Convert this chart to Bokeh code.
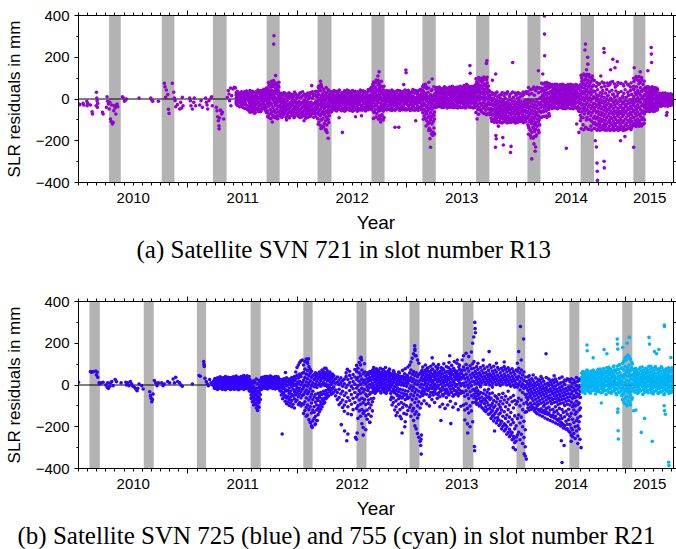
from bokeh.plotting import figure
from bokeh.models import Range1d, LinearAxis, FixedTicker, Span, Title, CustomLabelingPolicy
from bokeh.layouts import column
from bokeh.embed import file_html
from bokeh.resources import INLINE

# ---------------- axes / ticks ----------------
X_START, X_END = 2010.0, 2015.434
Y_MIN, Y_MAX = -400, 400
YEAR_TICKS = [2011, 2012, 2013, 2014, 2015]
MONTH_TICKS = [2010 + i / 12 for i in range(66)]
YEAR_LABEL_POS = [2010.5, 2011.5, 2012.5, 2013.5, 2014.5, 2015.217]
YEAR_LABELS = ["2010", "2011", "2012", "2013", "2014", "2015"]
Y_TICKS = [-400, -200, 0, 200, 400]
Y_MINOR = [-300, -100, 100, 300]
Y_LABELS = ["\u2212400", "\u2212200", "0", "200", "400"]
Y_RIGHT_TICKS = [-400, -300, -200, -100, 0, 100, 200, 300, 400]

# ---------------- eclipse seasons (grey bands) ----------------
a_band_start = [2010.279, 2010.760, 2011.228, 2011.718, 2012.183, 2012.676, 2013.141, 2013.631, 2014.100, 2014.586, 2015.067]
a_band_end = [2010.386, 2010.876, 2011.353, 2011.837, 2012.311, 2012.795, 2013.263, 2013.752, 2014.219, 2014.708, 2015.177]
b_band_start = [2010.100, 2010.596, 2011.081, 2011.572, 2012.053, 2012.539, 2013.023, 2013.509, 2014.000, 2014.483, 2014.966]
b_band_end = [2010.195, 2010.687, 2011.165, 2011.664, 2012.138, 2012.630, 2013.114, 2013.607, 2014.080, 2014.574, 2015.058]

# ---------------- panel (a): SVN 721, isolated points ----------------
a_t = [2010.006, 2010.012, 2010.042, 2010.048, 2010.076, 2010.079, 2010.085, 2010.109, 2010.124, 2010.128,
       2010.164, 2010.167, 2010.170, 2010.161, 2010.173, 2010.176, 2010.219, 2010.225, 2010.255, 2010.261,
       2010.267, 2010.273, 2010.280, 2010.286, 2010.292, 2010.298, 2010.304, 2010.310, 2010.316, 2010.322,
       2010.328, 2010.335, 2010.341, 2010.347, 2010.353, 2010.359, 2010.401, 2010.410, 2010.419, 2010.431,
       2010.437, 2010.553, 2010.660, 2010.669, 2010.678, 2010.730, 2010.784, 2010.790, 2010.802, 2010.796,
       2010.815, 2010.821, 2010.827, 2010.857, 2010.870, 2010.876, 2010.882, 2010.888, 2010.903, 2010.924,
       2010.933, 2010.942, 2010.948, 2010.955, 2011.015, 2011.021, 2011.027, 2011.040, 2011.052, 2011.058,
       2011.070, 2011.107, 2011.119, 2011.131, 2011.161, 2011.168, 2011.174, 2011.180, 2011.192, 2011.210,
       2011.216, 2011.222, 2011.259, 2011.265, 2011.271, 2011.277, 2011.283, 2011.284, 2011.289, 2011.295,
       2011.301, 2011.307, 2011.314, 2011.326, 2011.359, 2011.368, 2011.374, 2011.380, 2011.389, 2011.392,
       2011.399, 2011.411, 2011.423, 2011.435,
       2011.785, 2011.783, 2011.800, 2011.760, 2011.820, 2011.770, 2011.830, 2011.900, 2012.060, 2012.130,
       2012.210, 2012.215, 2012.270, 2012.280, 2012.255, 2012.380, 2012.410, 2012.530, 2012.585, 2012.745,
       2012.735, 2012.760, 2012.990, 2012.992, 2012.890, 2012.925, 2012.970, 2013.080, 2013.215, 2013.230,
       2013.200, 2013.210, 2013.235, 2013.575, 2013.577, 2013.520, 2013.545, 2013.640, 2013.730, 2013.725,
       2013.810, 2013.965, 2013.812, 2013.815, 2013.808, 2013.880, 2013.875, 2013.950, 2013.945, 2013.835,
       2013.780, 2014.140, 2014.170, 2014.175, 2014.200, 2014.160, 2014.255, 2014.256, 2014.257, 2014.240,
       2014.455, 2014.570, 2014.550, 2014.630, 2014.625, 2014.650, 2014.652, 2014.640, 2014.735, 2014.738,
       2014.740, 2014.800, 2014.802, 2014.798, 2014.801, 2014.880, 2014.920, 2014.900, 2014.860, 2015.070,
       2015.230, 2015.232, 2015.234, 2015.200, 2015.375, 2015.370, 2015.075, 2015.130, 2014.720, 2014.730,
       2014.950, 2014.770, 2014.990]
a_v = [-24, -27, -21, -29, -11, -32, -21, -29, -61, -72,
       32, 5, -8, -32, -40, -21, -64, -72, -40, 11,
       -11, -24, -48, -16, -96, -108, -29, -120, -112, -56,
       -32, -43, -72, -29, -24, -37, 11, 5, -11, -5,
       0, 5, 5, -5, -11, -11, 75, 59, 43, 8,
       21, -49, -69, 75, 32, 5, -8, -37, -27, -48,
       -16, -43, 8, -32, 5, -8, -32, -48, -16, 5,
       -32, -29, -8, -40, 5, -16, -29, -48, -8, 5,
       11, -32, -40, -56, -85, -104, -128, -143, -91, -53,
       -56, -72, -64, -96, 8, 40, 24, -8, 53, -32,
       16, 48, 56, 53,
       303, 263, 112, 85, -95, -110, 80, -100, -104, 64,
       85, 70, -160, -188, -150, -90, -160, -85, -80, 130,
       110, -110, 139, 126, -135, -135, 69, -104, -231, 96,
       80, -190, -175, 160, 123, 64, 70, -96, 183, 170,
       120, 175, -175, -191, -231, -220, -185, -227, -256, -130,
       90, -287, -250, -230, 135, -215, 398, 311, 207, 120,
       -236, -160, -120, 263, 235, 200, 167, 140, -307, -346,
       -390, -298, -330, 242, 223, 190, 180, 150, 140, -231,
       247, 215, 175, 135, -65, -78, 150, 130, -200, -230,
       -200, 110, -180]

# panel (a), dense part: each entry is [time, residuals...]
a_cols = [
    [2011.440, 18, 3, -12, 30, -22], [2011.452, 8, -6, 24, -30, 36], [2011.464, 14, -2, -18, 28],
    [2011.476, 4, 20, -10, -34, 12], [2011.488, 22, 9, -4, -24, 34], [2011.500, 0, 15, -15, 27, -40],
    [2011.512, 11, -8, 32, -26], [2011.524, 6, 19, -20, -44, 26], [2011.536, 16, -3, -30, 38, 2],
    [2011.548, -6, 10, -38, 22, -52], [2011.560, 4, -16, -34, 24, -58], [2011.572, -10, 12, -46, -26, 30],
    [2011.584, -2, -22, -62, 18, -40], [2011.596, 8, -30, -12, -52, 28], [2011.608, -18, 2, -38, -68, 20],
    [2011.620, -6, 14, -28, -50, 34], [2011.632, 10, -20, -44, 26, -4], [2011.644, -14, 6, -36, -60, 30],
    [2011.656, 2, 22, -24, -48, 38], [2011.668, -8, 16, -32, 40, -56], [2011.680, 12, -2, -20, 34, -42],
    [2011.692, 4, 24, -14, -38, 46], [2011.704, -4, 18, 36, -28, -50],
    [2011.716, 10, -10, 30, -40, 52, -66], [2011.728, 24, 2, -22, 46, -58, -84], [2011.740, 16, -6, 38, -34, 64, -72],
    [2011.752, 30, 8, -18, 56, -50, -94], [2011.764, 6, -26, 42, 72, -62, 20], [2011.776, 22, -4, -40, 60, -78, 84],
    [2011.788, 12, -16, 36, -54, 68, -88], [2011.800, 28, 0, -30, 50, -66, 76], [2011.812, 2, -20, 26, -48, 58, -80],
    [2011.824, -8, 14, -36, 40, -62, 64],
    [2011.836, -12, -34, 10, -58, 28, -80], [2011.848, -26, -2, -48, 18, -72], [2011.860, -16, -40, 6, -62, -86],
    [2011.872, -32, -10, -54, 22, -76], [2011.884, -20, 0, -44, -68, 14], [2011.896, -36, -14, -58, 24, -88],
    [2011.908, -8, -28, -50, 10, -74], [2011.920, -24, -46, 4, -66, 28], [2011.932, -40, -18, -60, 16, -84],
    [2011.944, -14, -32, -56, 8, -70], [2011.956, -28, -4, -50, -78, 20], [2011.968, -18, -42, 12, -64, -90],
    [2011.980, -34, -10, -52, 26, -72], [2011.992, -22, -46, 2, -68, 18], [2012.004, -38, -16, -60, 14, -82],
    [2012.016, -12, -30, -54, 22, -76], [2012.028, -26, -48, 6, -70, 30], [2012.040, -42, -20, -62, 10, -86],
    [2012.052, -16, -36, -58, 18, -74], [2012.064, -30, -6, -52, -80, 24], [2012.076, -20, -44, 8, -66, -92],
    [2012.088, -36, -12, -56, 20, -70], [2012.100, -24, -48, 0, -72, 16], [2012.112, -40, -18, -60, 12, -84],
    [2012.124, -14, -32, -54, 26, -76], [2012.136, -28, -50, 4, -68, 34], [2012.148, -44, -22, -64, 14, -88],
    [2012.160, -18, -38, -58, 22, -72], [2012.172, -10, -30, 12, -50, 36],
    [2012.184, 8, -18, -42, 34, -66, -94], [2012.196, 20, -6, -30, 52, -58, -110, 62], [2012.208, 2, -24, -50, 40, -80, -126],
    [2012.220, 14, -12, -38, 58, -70, -100, -140], [2012.232, -4, -30, 26, -60, -92, -132], [2012.244, 10, -20, -46, 36, -76, -118],
    [2012.256, -8, -36, 18, -64, -104, -146], [2012.268, 4, -26, 30, -56, -88, -124], [2012.280, -14, -40, 12, -70, -98, 44],
    [2012.292, -2, -28, -54, 22, -80], [2012.304, 6, -16, -38, 28, -62],
    [2012.316, -4, -20, 12, -36, 28, -52], [2012.328, 6, -12, -28, 22, -44], [2012.340, -8, 2, -24, 18, -40, 34],
    [2012.352, 0, -16, 14, -32, -54], [2012.364, -12, 8, -26, 26, -46], [2012.376, 4, -6, -20, 20, -38, 36],
    [2012.388, -10, 10, -30, 16, -50], [2012.400, 2, -14, 24, -34, -56], [2012.412, -6, 12, -22, 30, -42],
    [2012.424, 8, -10, -26, 18, -48], [2012.436, -2, -18, 14, -36, 32], [2012.448, 6, -8, -30, 22, -52],
    [2012.460, -10, 4, -24, 28, -44], [2012.472, 0, -16, 16, -38, 38], [2012.484, -8, 10, -28, 20, -50],
    [2012.496, 4, -12, -20, 26, -42], [2012.508, -4, 12, -32, 18, -56], [2012.520, 10, -6, -24, 32, -46],
    [2012.532, -6, 2, -18, 24, -40], [2012.544, 6, -14, -34, 16, -58], [2012.556, -2, 14, -26, 30, -44],
    [2012.568, 8, -8, -22, 22, -50], [2012.580, -8, 6, -30, 34, -42], [2012.592, 2, -12, 18, -36, -54],
    [2012.604, -4, 10, -24, 28, -48], [2012.616, 10, -6, -20, 36, -40], [2012.628, -6, 4, -28, 24, -52],
    [2012.640, 4, 16, -16, 32, -38], [2012.652, 12, -4, -26, 40, -46], [2012.664, 6, 20, -14, 44, -36],
    [2012.676, 16, -4, 36, -28, 56, -50], [2012.688, 26, 4, -18, 48, -40, 70], [2012.700, 10, 34, -10, 62, -36, -64],
    [2012.712, 30, 6, -24, 54, 78, -52], [2012.724, 18, -6, 44, -30, 86, -70], [2012.736, 36, 12, -16, 66, -44, 90],
    [2012.748, 22, -2, 50, -38, 74, -82], [2012.760, 8, -20, 40, -54, 62, -96], [2012.772, 24, -8, 32, -44, 58, -76],
    [2012.784, 4, -26, 20, -58, 44, -100],
    [2012.796, -2, -18, 14, -36, 30, -50], [2012.808, 6, -10, -26, 22, -44], [2012.820, -8, 10, -30, 26, -48],
    [2012.832, 2, -14, 18, -34, 38], [2012.844, -6, 8, -22, 28, -52], [2012.856, 4, -12, -28, 20, -42],
    [2012.868, -10, 6, -18, 32, -46], [2012.880, 0, -16, 16, -32, 36], [2012.892, -4, 12, -26, 24, -54],
    [2012.904, 8, -8, -20, 30, -40], [2012.916, -2, -20, 14, -38, 40], [2012.928, 6, -6, -28, 22, -48],
    [2012.940, -8, 10, -22, 34, -44], [2012.952, 2, -14, 18, -36, 28], [2012.964, -4, 8, -30, 26, -50],
    [2012.976, 10, -10, -24, 38, -42], [2012.988, 0, 16, -18, 30, -46], [2013.000, -6, 6, -26, 24, -52],
    [2013.012, 4, -12, 20, -34, 42], [2013.024, -2, 10, -28, 32, -44], [2013.036, 8, -8, -20, 26, -48],
    [2013.048, -4, 14, -30, 36, -40], [2013.060, 2, -16, 12, -36, 30], [2013.072, -8, 6, -24, 28, -54],
    [2013.084, 6, -10, -22, 34, -46], [2013.096, 0, 12, -32, 24, -50], [2013.108, 10, -6, -18, 40, -42],
    [2013.120, 4, 18, -14, 44, -38], [2013.132, 12, -2, -26, 36, -52],
    [2013.144, 18, -6, 42, -34, 60, -66], [2013.156, 8, -20, 30, -50, -82, 56], [2013.168, 0, -30, 24, -58, -92, 70],
    [2013.180, -10, -40, 16, -70, -104, 50], [2013.192, 4, -26, -56, 32, -88, -120], [2013.204, -16, -46, 10, -80, -112, -140],
    [2013.216, -6, -36, 20, -66, -98, -150], [2013.228, -20, -52, 6, -84, -120, 44], [2013.240, -12, -42, 14, -74, -108, -160],
    [2013.252, -2, -30, 24, -62, -96, -168],
    [2013.264, 12, -8, 30, -24, 46, -40], [2013.276, 20, 2, -16, 36, -34], [2013.288, 6, 26, -12, 44, -30],
    [2013.300, 16, -4, 34, -22, 52], [2013.312, 24, 4, -18, 40, -36], [2013.324, 8, -10, 28, -26, 48],
    [2013.336, 18, 0, 38, -20, -40], [2013.348, 26, 6, -14, 46, -30], [2013.360, 10, -6, 32, -28, 50],
    [2013.372, 20, 2, -20, 40, -38], [2013.384, 4, 24, -10, 44, -32], [2013.396, 14, -8, 36, -24, 54],
    [2013.408, 22, 6, -16, 42, -36], [2013.420, 8, -4, 30, -22, 48], [2013.432, 18, 0, 38, -28, -42],
    [2013.444, 28, 10, -12, 50, -30], [2013.456, 12, -6, 34, -26, 46], [2013.468, 20, 4, -18, 40, -38],
    [2013.480, 6, 26, -10, 48, -34], [2013.492, 16, -2, 36, -20, 56], [2013.504, 24, 8, -14, 44, -40],
    [2013.516, 10, -8, 30, -26, 52], [2013.528, 20, 0, 40, -22, -36], [2013.540, 28, 12, -10, 50, -30],
    [2013.552, 14, -4, 34, -24, 58], [2013.564, 22, 6, -16, 46, -38], [2013.576, 8, 30, -8, 54, -32],
    [2013.588, 18, -2, 38, -20, 60], [2013.600, 26, 10, -14, 48, -40], [2013.612, 14, -6, 34, -28, 56],
    [2013.624, 24, 4, 44, -18, 64, -40], [2013.636, 12, -10, 36, -34, 58, 82], [2013.648, 30, 6, 54, -24, 76, -50],
    [2013.660, 18, -6, 42, -40, 66, 94], [2013.672, 8, -20, 32, -52, 60, 88], [2013.684, 26, 2, 50, -30, 80, -62],
    [2013.696, 36, 10, 62, -18, 90, -44], [2013.708, 20, -8, 46, -36, 72, 100], [2013.720, 6, -24, 34, -54, 64, -72],
    [2013.732, 28, 0, 52, -28, 78, 104], [2013.744, 14, -14, 40, -46, 62, -68],
    [2013.756, -4, -28, 18, -52, -76, 34], [2013.768, -20, -44, 4, -68, -92], [2013.780, -30, -54, -8, -78, 20, -100],
    [2013.792, -24, -48, 2, -72, -96], [2013.804, -38, -62, -14, -86, 16, -106], [2013.816, -28, -52, -6, -76, -100, 28],
    [2013.828, -42, -66, -18, -90, 10], [2013.840, -32, -56, -10, -80, -108], [2013.852, -46, -70, -22, -94, 6, -112],
    [2013.864, -34, -58, -12, -84, 22], [2013.876, -48, -72, -24, -96, -4, -110], [2013.888, -36, -60, -14, -88, 14],
    [2013.900, -50, -74, -26, -98, 2, -106], [2013.912, -40, -64, -16, -90, 24, -114], [2013.924, -30, -56, -8, -82, -104],
    [2013.936, -44, -68, -20, -94, 12], [2013.948, -52, -76, -28, -100, -2, -112], [2013.960, -38, -62, -12, -86, 30],
    [2013.972, -46, -70, -22, -96, 8, -108], [2013.984, -34, -58, -10, -84, -104], [2013.996, -48, -72, -24, -98, 18],
    [2014.008, -40, -64, -16, -90, 4, -110], [2014.020, -30, -54, -8, -80, -102, 26], [2014.032, -44, -68, -20, -94, 10],
    [2014.044, -36, -60, -12, -86, -108], [2014.056, -50, -74, -26, -98, 14], [2014.068, -38, -62, -14, -88, 22, -112],
    [2014.080, -28, -54, -6, -80, -104], [2014.092, -42, -66, -18, -92, 28],
    [2014.104, -30, -60, -4, -92, 34, -124], [2014.116, -46, -76, -16, -108, 20, -140], [2014.128, -36, -68, -8, -100, 44, -150, -176],
    [2014.140, -54, -86, -24, -118, 26, -160], [2014.152, -40, -72, -10, -104, 48, -136, -188], [2014.164, -58, -90, -28, -122, 18, -156],
    [2014.176, -44, -78, -14, -112, 40, -146, -180], [2014.188, -32, -64, -2, -96, 56, -130], [2014.200, -48, -80, -18, -110, 30, -150],
    [2014.212, -26, -58, 2, -90, 52, -124],
    [2014.224, -16, -40, 8, -66, 36, -88], [2014.236, -4, -30, 20, -56, 48, 72], [2014.248, -12, -36, 14, -62, 40, -84],
    [2014.260, 2, -22, 28, -48, 56, 78], [2014.272, -8, -32, 18, -58, 44, -80], [2014.284, 6, -18, 30, -44, 60, 74],
    [2014.296, 0, -26, 24, -50, 52, -70], [2014.308, 10, -12, 34, -38, 62],
    [2014.320, 14, -6, 36, -26, 58], [2014.332, 22, 2, 44, -18, 66, -38], [2014.344, 8, -10, 30, -30, 52],
    [2014.356, 18, -2, 40, -22, 62, -40], [2014.368, 26, 6, 48, -14, 70], [2014.380, 10, -8, 34, -28, 56, -42],
    [2014.392, 20, 0, 42, -20, 64], [2014.404, 4, -14, 28, -34, 50], [2014.416, 16, -4, 38, -24, 60, -36],
    [2014.428, 24, 4, 46, -16, 68], [2014.440, 12, -10, 32, -30, 54, -44], [2014.452, 20, 2, 40, -22, 62],
    [2014.464, 6, -12, 30, -32, 50, -40], [2014.476, 18, -4, 38, -26, 58], [2014.488, 26, 8, 46, -18, 66],
    [2014.500, 10, -8, 34, -28, 56, -42], [2014.512, 22, 2, 42, -20, 64], [2014.524, 8, -12, 28, -32, 52, -38],
    [2014.536, 16, -2, 38, -24, 60], [2014.548, 24, 6, 44, -16, 68, -44], [2014.560, 10, -14, 30, -36, 54],
    [2014.572, 2, -22, 22, -46, 48, -60],
    [2014.584, 14, -16, 40, -44, 68, -78, -104], [2014.596, 28, -2, 56, -30, 84, -62, 100], [2014.608, 8, -24, 36, -56, 70, -90, -124],
    [2014.620, 24, -8, 52, -40, 90, -72, 112], [2014.632, 36, 4, 64, -26, 96, -58, -136], [2014.644, 16, -18, 44, -50, 78, -88, 118],
    [2014.656, 30, -4, 58, -36, 88, -70, -146], [2014.668, 6, -28, 34, -62, 72, -98, 104], [2014.680, 20, -12, 48, -46, 82, -80, -130],
    [2014.692, 32, 0, 60, -32, 94, -66, 110], [2014.704, 10, -22, 38, -56, 66, -92, -118],
    [2014.716, -22, -52, 6, -82, 36, -112, -140], [2014.728, -36, -66, -8, -96, 22, -126, 60], [2014.740, -28, -58, 0, -88, 44, -120, -148],
    [2014.752, -44, -74, -14, -104, 16, -134, 70], [2014.764, -32, -62, -4, -92, 30, -124, -150], [2014.776, -48, -78, -18, -108, 12, -138, 56],
    [2014.788, -38, -68, -10, -98, 40, -128, -146], [2014.800, -54, -84, -24, -114, 8, -142, 76], [2014.812, -42, -72, -12, -102, 28, -132],
    [2014.824, -30, -60, -2, -90, 46, -120, -150], [2014.836, -50, -80, -20, -110, 18, -140, 64], [2014.848, -40, -70, -8, -100, 34, -130],
    [2014.860, -56, -86, -26, -116, 4, -146, 80], [2014.872, -34, -64, -6, -94, 42, -124], [2014.884, -46, -76, -16, -106, 24, -136, -150],
    [2014.896, -58, -88, -28, -118, 10, -148, 72], [2014.908, -38, -68, -8, -98, 38, -128], [2014.920, -52, -82, -22, -112, 14, -142, 66],
    [2014.932, -44, -74, -14, -104, 30, -134, -150], [2014.944, -60, -90, -30, -120, 2, -146], [2014.956, -40, -70, -10, -100, 36, -130, 74],
    [2014.968, -54, -84, -24, -114, 12, -144], [2014.980, -46, -76, -16, -106, 26, -136, 62], [2014.992, -36, -66, -6, -96, 44, -126, -148],
    [2015.004, -56, -86, -26, -116, 8, -146], [2015.016, -42, -72, -12, -102, 32, -132, 70], [2015.028, -50, -80, -20, -110, 18, -140],
    [2015.040, -34, -64, -4, -94, 40, -124, 58], [2015.052, -46, -76, -16, -106, 22, -136], [2015.064, -30, -60, 0, -90, 48, -120],
    [2015.072, -20, -54, 12, -88, 46, -118, 84], [2015.084, -36, -70, -4, -102, 30, -128, 96], [2015.096, -12, -46, 22, -80, 58, -112, 104],
    [2015.108, -28, -62, 6, -96, 40, -124, 90], [2015.120, -40, -74, -8, -106, 26, -130, 108], [2015.132, -16, -50, 18, -84, 54, -116, 80],
    [2015.144, -32, -66, 2, -98, 36, -126, 94], [2015.156, -24, -58, 10, -90, 44, -120, 70], [2015.168, -10, -40, 20, -72, 50, -100],
    [2015.180, -6, -28, 16, -46, 38, -60, 56], [2015.192, 4, -18, 26, -38, 48, -56], [2015.204, -10, -32, 12, -50, 34, 58],
    [2015.216, 0, -22, 22, -42, 44, -58], [2015.228, -8, -30, 14, -48, 36, 54], [2015.240, 6, -16, 28, -36, 50, -52],
    [2015.252, -4, -26, 18, -44, 40, -60], [2015.264, 2, -20, 24, -40, 46], [2015.276, -12, -34, 10, -52, 32, 52],
    [2015.288, -2, -24, 20, -42, 42],
    [2015.300, -6, -20, 10, -32, 24], [2015.312, 2, -14, 16, -28, 26], [2015.324, -8, -22, 8, -34, 20],
    [2015.336, 0, -16, 14, -30, 28], [2015.348, -4, -18, 12, -26, 22], [2015.360, 4, -12, 18, -24, 26],
    [2015.372, -6, -20, 6, -30, 20], [2015.384, 2, -14, 14, -26, 24], [2015.396, -2, -16, 10, -28, 18],
    [2015.408, 4, -10, 16, -22, 22], [2015.420, -4, -16, 8, -24, 20], [2015.432, 0, -12, 12, -20, 16],
]

# panel (a), points in between the columns above
a_cols2 = [
    [2011.446, 33, -27, 7], [2011.470, -37, 21, -1], [2011.494, 27, -33, 13], [2011.518, -45, 35, -9],
    [2011.542, 31, -49, 17], [2011.566, -63, 41, -21], [2011.590, 37, -55, -7], [2011.614, -47, 23, -65],
    [2011.638, 43, -53, -17], [2011.662, -61, 29, 7], [2011.686, 39, -47, -23], [2011.710, -57, 45, 1],
    [2011.734, 79, -87, -11, 37], [2011.758, -71, 65, 3, -93], [2011.782, 89, -59, 27, -83], [2011.806, -91, 71, -13, 45],
    [2011.830, 57, -77, 19], [2011.854, -87, 27, -41], [2011.878, 31, -69, -21], [2011.902, -83, 17, -47],
    [2011.926, 29, -91, -33], [2011.950, -77, 23, -9], [2011.974, 33, -85, -39], [2011.998, -73, 11, -51],
    [2012.022, 27, -89, -27], [2012.046, -81, 35, -15], [2012.070, 19, -79, -43], [2012.094, -87, 29, -23],
    [2012.118, 31, -83, -35], [2012.142, -71, 21, -47], [2012.166, 37, -85, -13], [2012.190, -121, 57, -73, 23],
    [2012.214, 63, -141, -21, -99], [2012.238, -133, 47, -63, 11], [2012.262, 55, -147, -85, -29], [2012.286, -113, 41, -53],
    [2012.310, 35, -61, -9], [2012.334, -53, 41, -19], [2012.358, 37, -57, 3], [2012.382, -49, 43, -29],
    [2012.406, 31, -55, -11], [2012.430, -59, 39, 7], [2012.454, 43, -47, -23], [2012.478, -55, 33, -3],
    [2012.502, 41, -59, -17], [2012.526, -51, 37, 9], [2012.550, 35, -57, -27], [2012.574, -53, 43, -7],
    [2012.598, 39, -49, 13], [2012.622, -57, 29, -21], [2012.646, 45, -51, 1], [2012.670, -43, 53, -19],
    [2012.694, 81, -93, 17, -61], [2012.718, -87, 91, -29, 43], [2012.742, 77, -97, 7, -57], [2012.766, -81, 85, -33, 29],
    [2012.790, 61, -89, -7], [2012.814, -53, 41, -13], [2012.838, 37, -49, 5], [2012.862, -55, 43, -21],
    [2012.886, 33, -51, 11], [2012.910, -47, 41, -27], [2012.934, 39, -55, -3], [2012.958, -51, 35, 15],
    [2012.982, 43, -53, -19], [2013.006, -49, 39, 3], [2013.030, 31, -55, -25], [2013.054, -53, 45, 7],
    [2013.078, 41, -47, -15], [2013.102, -55, 37, 1], [2013.126, 47, -43, 21], [2013.150, 67, -97, -21, 33],
    [2013.174, -129, 61, -71, 3], [2013.198, 53, -151, -45, -113], [2013.222, -167, 41, -89, -27], [2013.246, 59, -139, -7, -79],
    [2013.270, -39, 55, 21], [2013.294, 57, -37, 3], [2013.318, -41, 49, 29], [2013.342, 59, -35, 13],
    [2013.366, -43, 53, -1], [2013.390, 57, -39, 31], [2013.414, -41, 61, 5], [2013.438, 55, -37, 25],
    [2013.462, -43, 57, -5], [2013.486, 61, -41, 17], [2013.510, -39, 55, 35], [2013.534, 59, -43, 3],
    [2013.558, -37, 63, 21], [2013.582, 57, -41, 41], [2013.606, -43, 61, 9], [2013.630, 97, -65, 29, 71],
    [2013.654, -73, 103, 1, 49], [2013.678, 99, -59, 63, -23], [2013.702, -69, 105, 35, -1], [2013.726, 93, -75, 57, -39],
    [2013.750, -69, 41, 13], [2013.774, 31, -107, -57], [2013.798, -111, 27, -31], [2013.822, 33, -113, -69],
    [2013.846, -107, 19, -43], [2013.870, 31, -115, -61], [2013.894, -109, 27, -79], [2013.918, 35, -113, -51],
    [2013.942, -111, 23, -37], [2013.966, 33, -109, -65], [2013.990, -115, 29, -53], [2014.014, 31, -111, -73],
    [2014.038, -107, 25, -41], [2014.062, 33, -113, -59], [2014.086, -109, 35, -27], [2014.110, 55, -169, -81, -133],
    [2014.134, -187, 47, -113, -61], [2014.158, 57, -181, -93, -141], [2014.182, -171, 49, -127, -69], [2014.206, 53, -161, -101],
    [2014.230, -87, 77, -29, 53], [2014.254, 71, -83, -43, 31], [2014.278, -89, 79, -11, 65], [2014.302, 73, -81, -37],
    [2014.326, -45, 69, 27], [2014.350, 71, -43, 53], [2014.374, -47, 63, 33], [2014.398, 69, -41, 9],
    [2014.422, -45, 71, 43], [2014.446, 65, -47, 29], [2014.470, -43, 69, 7], [2014.494, 71, -45, 51],
    [2014.518, -47, 67, 25], [2014.542, 69, -41, 33], [2014.566, -55, 61, -11], [2014.590, 113, -143, 23, -91],
    [2014.614, -147, 119, -47, 73], [2014.638, 109, -139, 9, -101], [2014.662, -145, 117, -63, 61], [2014.686, 103, -149, 31, -107],
    [2014.710, -141, 89, -41], [2014.734, 79, -149, -61, 7], [2014.758, -147, 73, -117, -23], [2014.782, 81, -143, -67, 25],
    [2014.806, -149, 61, -123, -31], [2014.830, 77, -145, -53, 13], [2014.854, -151, 69, -111, -39], [2014.878, 83, -141, -71, 21],
    [2014.902, -147, 57, -127, -11], [2014.926, 79, -149, -63, 27], [2014.950, -143, 75, -115, -33], [2014.974, 71, -151, -59, 9],
    [2014.998, -145, 81, -121, -29], [2015.022, 67, -139, -73, 19], [2015.046, -147, 77, -109, -41], [2015.070, 99, -127, -7, 61],
    [2015.094, -131, 107, -53, 29], [2015.118, 91, -123, -11, 73], [2015.142, -129, 103, -67, 37], [2015.166, 85, -117, -31],
    [2015.190, -59, 57, -19, 29], [2015.214, 53, -61, 7], [2015.238, -57, 59, -27, 33], [2015.262, 55, -59, 1],
    [2015.286, -53, 49, -13], [2015.310, 27, -35, -9], [2015.334, -31, 25, 3], [2015.358, 29, -33, -13],
    [2015.382, -35, 23, 7], [2015.406, 25, -31, -5], [2015.430, -29, 21, 9],
]

# ---------------- panel (b): SVN 725 (blue), isolated points ----------------
b_t = [2010.000, 2010.109, 2010.121, 2010.134, 2010.158, 2010.164, 2010.170, 2010.176, 2010.188, 2010.194,
       2010.207, 2010.225, 2010.249, 2010.261, 2010.267, 2010.273, 2010.286, 2010.292, 2010.304, 2010.316,
       2010.335, 2010.347, 2010.389, 2010.432, 2010.438, 2010.450, 2010.462, 2010.474, 2010.486, 2010.498,
       2010.511, 2010.523, 2010.535, 2010.541, 2010.553, 2010.578, 2010.590, 2010.650, 2010.657, 2010.663,
       2010.669, 2010.675, 2010.681, 2010.693, 2010.705, 2010.717, 2010.730, 2010.760, 2010.772, 2010.784,
       2010.815, 2010.833, 2010.864, 2010.876, 2010.888, 2010.906, 2010.924, 2010.936, 2010.948, 2011.040,
       2011.101, 2011.113, 2011.143, 2011.146, 2011.149, 2011.155, 2011.167, 2011.177, 2011.186, 2011.198,
       2011.210, 2011.222, 2011.234,
       2011.860, 2011.890, 2012.100, 2012.090, 2012.135, 2012.120, 2012.160, 2012.180, 2012.260, 2012.450,
       2012.455, 2012.580, 2012.585, 2012.540, 2012.545, 2012.600, 2012.660, 2012.955, 2012.980, 2013.070,
       2013.072, 2013.075, 2013.125, 2013.130, 2013.128, 2013.230, 2013.310, 2013.390, 2013.460, 2013.400,
       2013.555, 2013.600, 2013.610, 2013.619, 2013.622, 2013.625, 2013.616, 2013.618, 2013.750, 2013.800,
       2013.970, 2013.990, 2014.036, 2014.065, 2014.070, 2014.090, 2014.080, 2014.020, 2014.270, 2014.410,
       2014.416, 2014.435, 2014.500, 2014.560, 2014.580, 2014.590, 2012.400, 2012.430, 2012.460, 2012.530]
b_v = [13, 64, 61, 64, 67, 48, 61, 37, 10, 5,
       10, 13, 0, -11, 10, -16, -6, 10, 16, -3,
       26, 16, 10, 13, 0, 10, -3, 16, 5, -6,
       -11, -19, -27, -16, 5, -3, -19, -32, -51, -64,
       -80, -70, -43, 21, 10, -3, 10, 10, -3, 5,
       16, 10, 29, 10, 37, 16, 10, 0, -6, 5,
       45, 42, 112, 99, 89, 32, 16, 5, -3, 26,
       10, 0, 16,
       -235, 60, 125, 110, -203, -180, -190, -170, 80, -267,
       75, 133, 120, -260, -230, -240, -180, -230, -200, 188,
       165, 140, -290, -331, -260, 130, -170, 140, 120, -185,
       -230, 200, 230, 300, 270, 250, -295, -315, 160, -220,
       -300, -310, 280, 220, -330, -355, -340, 160, 150, -267,
       -371, -290, -270, -280, -260, -300, -190, -220, -235, -251]

# panel (b) blue, dense part: [time, residuals...]
b_cols = [
    [2011.240, 8, -6, 22, -14], [2011.252, 14, 0, 28, -10], [2011.264, 4, 18, -12, 30], [2011.276, 10, -4, 24, -18],
    [2011.288, 16, 2, 32, -8], [2011.300, 6, 20, -14, 26], [2011.312, 12, -2, 28, -20], [2011.324, 18, 4, 34, -10],
    [2011.336, 2, 14, -16, 26], [2011.348, 10, 24, -6, 36], [2011.360, 16, 0, 30, -14], [2011.372, 6, 20, -10, 34],
    [2011.384, 12, -4, 26, -18], [2011.396, 20, 4, 36, -8], [2011.408, 8, 22, -12, 30], [2011.420, 14, -2, 28, -20],
    [2011.432, 4, 18, -8, 32], [2011.444, 12, 26, -4, 38], [2011.456, 18, 2, 34, -12], [2011.468, 8, 22, -10, 30],
    [2011.480, 14, -4, 28, -18], [2011.492, 20, 6, 38, -8], [2011.504, 10, 24, -6, 42], [2011.516, 16, 0, 32, -14],
    [2011.528, 6, 22, -10, 36], [2011.540, 14, 30, -2, 44], [2011.552, 20, 4, 36, -12], [2011.564, 8, -14, 26, -30],
    [2011.576, -6, -28, 16, -48, -64], [2011.588, -18, -40, 8, -62, -80], [2011.600, -10, -34, -56, -78, -96, 20],
    [2011.612, -26, -48, -70, -92, 12], [2011.624, -16, -42, -66, -88, -110, 28], [2011.636, -30, -54, -76, -100, -122, 6],
    [2011.648, -12, -36, -60, -84, -106, 22], [2011.660, -4, -24, -46, -70, 14],
    [2011.672, 6, -8, 22, -20, 34], [2011.684, 14, 0, 30, -12], [2011.696, 8, 20, -6, 36], [2011.708, 16, 2, 28, -14],
    [2011.720, 10, 24, -4, 40], [2011.732, 18, 4, 34, -10], [2011.744, 6, 22, -8, 30], [2011.756, 14, 28, 0, 42],
    [2011.768, 20, 6, 36, -12], [2011.780, 10, 24, -6, 32], [2011.792, 16, 2, 30, -14], [2011.804, 22, 8, 38, -4],
    [2011.816, 12, 26, -8, 34], [2011.828, 18, 4, 32, -16], [2011.840, 8, -10, 22, -28],
    [2011.852, 10, -6, 26, -30, -48], [2011.864, 2, -18, 20, -42, -66], [2011.876, 14, -10, 30, -36, -58],
    [2011.888, 6, -22, 24, -50, -78], [2011.900, 18, -4, 34, -28, -62, -90], [2011.912, 0, -26, 16, -54, -82],
    [2011.924, 12, -14, 28, -40, -70, -98], [2011.936, 4, -30, 22, -58, -86], [2011.948, 16, -8, 36, -46, -74, -104],
    [2011.960, 8, -20, 26, -52, -92], [2011.972, 20, -2, 40, -34, -66, -110], [2011.984, 2, -24, 30, -48, -80, 62],
    [2011.996, 14, -12, 46, -38, -72, 84], [2012.008, 6, -28, 34, -56, -94, 96], [2012.020, 18, -16, 52, -44, -84, 108],
    [2012.032, 0, -32, 40, -62, -100, 116], [2012.044, 12, -20, 56, -50, -90, 120],
    [2012.056, 24, -10, 60, -46, -92, -136, 96], [2012.068, 36, 0, 76, -34, -80, -122, 112], [2012.080, 14, -24, 52, -62, -108, -150, 124],
    [2012.092, 30, -6, 70, -42, -96, -144, 104], [2012.104, 8, -32, 46, -72, -118, -166, 88], [2012.116, 20, -18, 58, -58, -104, -180, 76],
    [2012.128, -4, -44, 36, -86, -134, -196, 66], [2012.140, 10, -30, 44, -70, -120, -172],
    [2012.152, 26, -8, 50, -56, -104, -160, -130], [2012.164, 34, 4, 58, -44, -82, -150, -186], [2012.176, 18, -12, 44, -64, -120, -96, -170],
    [2012.188, 30, 0, 54, -40, -74, -142, -112], [2012.200, 38, 8, 62, -52, -100, -60, -128], [2012.212, 22, -6, 48, -36, -80, -116, -94],
    [2012.224, 32, 2, 56, -66, -46, 72, -104], [2012.236, 40, 12, 64, -30, -74, -90], [2012.248, 26, -2, 50, -42, -62, 80, -84],
    [2012.260, 34, 6, 58, -26, -66, -48], [2012.272, 20, -8, 44, -38, 68, -58], [2012.284, 30, 0, 54, -20, -52, 24],
    [2012.296, 16, -12, 40, -32, 62], [2012.308, 28, 4, 50, -24, -44], [2012.320, 12, -16, 36, -40, 52],
    [2012.332, 20, -10, 44, -34], [2012.348, 8, -24, 30, -52], [2012.364, 14, -36, 38, -70], [2012.380, 2, -20, 24, -60, -94],
    [2012.396, 10, -42, 34, -84], [2012.412, -6, -30, 20, -72, -108], [2012.428, 6, -50, 28, -96, -126],
    [2012.444, -12, -38, 40, -80, 58], [2012.460, 0, -60, 26, -104, -138], [2012.476, 12, -26, 46, -74, 66],
    [2012.492, -8, -46, 32, -92, -142], [2012.508, 16, -18, 50, -64, -118], [2012.524, 4, -36, 38, -84, 74],
    [2012.540, 26, -14, 64, -58, -112, 94], [2012.552, 36, -4, 80, -46, -100, -160], [2012.564, 18, -26, 58, -72, -124, 108],
    [2012.576, 44, 4, 96, -40, -92, -150, 128], [2012.588, 28, -16, 72, -64, -118, -186], [2012.600, 12, -34, 54, -84, -136, -204],
    [2012.612, 22, -22, 62, -70, -126, 102], [2012.624, 6, -44, 44, -94, -148, -214],
    [2012.636, 30, -8, 58, -54, -120, -164], [2012.648, 20, -16, 48, -88, -140, -72], [2012.660, 36, 2, 64, -44, -110, -178],
    [2012.672, 24, -10, 54, -66, -96, -150], [2012.684, 40, 8, 68, -34, -124, -80], [2012.696, 28, -4, 58, -26, -64, 84],
    [2012.708, 16, 44, -14, 66, -40], [2012.720, 34, 6, 60, -20, 78], [2012.732, 22, -6, 50, -28, 70],
    [2012.744, 38, 10, 64, -16], [2012.756, 26, 0, 52, -30, 80], [2012.768, 12, 40, -12, 62],
    [2012.780, 30, 4, 56, -22, 74], [2012.792, 20, -8, 46, -34], [2012.804, 36, 8, 62, -18, 84],
    [2012.816, 24, -4, 50, -30], [2012.828, 14, 42, -14, 66], [2012.840, 32, 2, 56, -24, 76],
    [2012.852, 18, -10, 46, -40, -70], [2012.864, 28, 0, 54, -30, -96], [2012.876, 12, -18, 40, -62, -84, 68],
    [2012.888, 24, -8, 50, -38, -120], [2012.900, 8, -26, 36, -76, -104, -146], [2012.912, 20, -14, 46, -50, -132],
    [2012.924, 4, -32, 32, -92, -66, 62], [2012.936, 16, -20, 42, -118, -150, -58], [2012.948, 0, -38, 28, -84, -162],
    [2012.960, 12, -24, 40, -56, -108, 70], [2012.972, -2, -42, 26, -136, -92], [2012.984, 10, -28, 38, -70, -176, 78],
    [2012.996, -6, -46, 24, -100, -140], [2013.008, 8, -30, 36, -64, -122, 86],
    [2013.024, 22, -16, 58, -58, -108, 96], [2013.036, 34, -6, 72, -44, -96, -150, 110], [2013.048, 16, -26, 52, -70, -124, 128],
    [2013.060, 28, -12, 64, -52, -112, -170, 150], [2013.072, 8, -36, 46, -84, -140, -196, 172], [2013.084, 20, -22, 58, -66, -128, -210, 140],
    [2013.096, 2, -48, 40, -100, -158, -232, 120], [2013.108, 14, -30, 50, -80, -142, -250, 104],
    [2013.120, 24, -10, 56, -56, -110, -270], [2013.132, 34, 4, 64, -40, -90, -240], [2013.144, 20, -14, 50, -50, 86],
    [2013.156, 30, 0, 60, -30, -76], [2013.168, 40, 10, 72, -20, 96], [2013.180, 24, -8, 54, -44, -90],
    [2013.192, 34, 6, 66, -26, 82], [2013.204, 18, -16, 48, -56, -100], [2013.216, 28, -2, 58, -36, 90],
    [2013.228, 42, 12, 74, -18, -70], [2013.240, 22, -10, 52, -48, 100], [2013.252, 36, 4, 66, -30, -84],
    [2013.264, 26, -6, 56, -42, 88], [2013.276, 44, 14, 76, -14, -64], [2013.288, 30, -2, 60, -38, 98],
    [2013.300, 18, -18, 46, -56, -104], [2013.312, 34, 6, 68, -28, 84], [2013.324, 24, -10, 54, -46, -92],
    [2013.336, 40, 10, 72, -22, 102], [2013.348, 28, -4, 58, -40, -112], [2013.360, 16, -20, 44, -60, 88],
    [2013.372, 36, 4, 66, -32, -96], [2013.384, 26, -8, 56, -48, 108], [2013.396, 42, 12, 74, -20, -78],
    [2013.408, 30, -2, 62, -36, 94], [2013.420, 20, -16, 50, -54, -106], [2013.432, 38, 8, 70, -26, 112],
    [2013.444, 26, -6, 58, -44, -90], [2013.456, 34, 2, 66, -34, 104], [2013.468, 22, -14, 52, -52, -118],
    [2013.480, 40, 10, 74, -24, 96], [2013.492, 28, -4, 60, -40, -102], [2013.504, 36, 6, 70, -30, 120],
    [2013.516, 44, 8, 86, -36, -96, 140], [2013.528, 30, -6, 72, -54, -120, -168], [2013.540, 52, 14, 98, -28, -90, 152],
    [2013.552, 36, 0, 80, -46, -112, -186], [2013.564, 24, -14, 66, -64, -134, 136], [2013.576, 48, 10, 92, -32, -100, -200],
    [2013.588, 34, -4, 78, -52, -124, 158], [2013.600, 56, 18, 102, -24, -84, -176],
    [2013.612, 46, 16, 80, -20, -44, -62, 112], [2013.624, 36, 64, 6, -30, -56, -82], [2013.636, 54, 24, 88, -14, -38, -70, -92],
    [2013.648, 40, 12, 74, -52, -86, 104, -28], [2013.660, 30, 58, 2, -44, -64, -100], [2013.672, 48, 20, 84, -36, -78, -96, -8],
    [2013.684, 38, 68, 10, -58, -108, -82], [2013.696, 56, 26, 92, -40, -72, -114, 120], [2013.708, 42, 14, 78, -24, -90, -66, -122],
    [2013.720, 32, 60, 4, -48, -104, -128, -76], [2013.732, 50, 22, 86, -34, -84, -118, -60], [2013.744, 40, 70, 12, -56, -96, -140, -20],
    [2013.756, 28, 54, 0, -70, -112, -138, 96, -42], [2013.768, 46, 18, 82, -62, -130, -98, -160], [2013.780, 36, 66, 8, -38, -88, -122, -150, -10],
    [2013.792, 54, 26, 90, -74, -144, -108, -172], [2013.804, 42, 72, 14, -52, -100, -158, -136], [2013.816, 30, 62, 2, -82, -126, -182, -58, 104],
    [2013.828, 48, 20, 84, -66, -116, -156, -170], [2013.840, 38, 74, 10, -46, -94, -140, -194, -168], [2013.852, 26, 58, -2, -78, -134, -186, -106],
    [2013.864, 44, 16, 80, -60, -120, -174, -210], [2013.876, 34, 68, 6, -90, -150, -198, -40], [2013.888, 52, 24, 88, -72, -128, -186, -220, 110],
    [2013.900, 40, 76, 12, -54, -104, -160, -212, -192], [2013.912, 28, 62, 0, -84, -144, -200, -236], [2013.924, 46, 18, 82, -68, -118, -176, -226, -30],
    [2013.936, 36, 70, 6, -96, -154, -212, -248], [2013.948, 24, 56, -6, -60, -132, -190, -238, -224], [2013.960, 42, 14, 78, -80, -166, -228, -262],
    [2013.972, 30, 64, 0, -110, -180, -246, -258, -50], [2013.984, 20, 52, -10, -74, -148, -210, -276], [2013.996, 38, 8, 72, -92, -196, -250, -268],
    [2014.008, 28, -10, 66, -80, -160, -240, 104], [2014.020, 40, 2, 80, -64, -144, -226], [2014.032, 16, -24, 58, -100, -182, -262],
    [2014.044, 32, -6, 72, -72, -154, -236, 120], [2014.056, 6, -36, 48, -118, -200, -280], [2014.068, 22, -16, 62, -90, -174, -252],
    [2014.080, -4, -46, 38, -130, -214, -296],
    [2014.092, -14, -44, 16, -82, -128, -60], [2014.104, -26, 38, 6, -94, -70, -110], [2014.116, -8, -38, 24, -56, -120, 44],
    [2014.128, -20, -50, 12, -86, -104, -2], [2014.140, -32, 30, 0, -64, -116, -98], [2014.152, -12, -42, 20, -76, -108, 48],
    [2014.164, -24, -54, 8, -90, -124, -6], [2014.176, -4, 34, -36, -68, -112, -130], [2014.188, -18, -48, 14, -82, -100, -138],
    [2014.200, -30, 26, 2, -60, -94, -118], [2014.212, -10, -40, 22, -74, -126, -144], [2014.224, -22, 40, 10, -52, -88, -114],
    [2014.236, -6, -34, 30, -66, -130, -150], [2014.248, -16, 18, -46, -80, -102, -122], [2014.260, -28, -58, 4, -92, -136, -158],
    [2014.272, -12, 36, -40, -72, -112, -128], [2014.284, -24, -54, 8, -86, -140, -164], [2014.296, -2, 28, -32, -64, -106, -134],
    [2014.308, -18, -48, 14, -78, -120, -146, -170], [2014.320, -30, 20, 2, -62, -90, -152], [2014.332, -10, -40, 24, -70, -116, -144, -176],
    [2014.344, -22, 44, 12, -52, -84, -130, -158], [2014.356, -6, -36, 28, -66, -104, -150, -182], [2014.368, -20, 16, -50, -80, -124, -164],
    [2014.380, -32, -64, 4, -94, -138, -170, -188], [2014.392, -14, 32, -44, -74, -112, -162], [2014.404, -26, -56, 10, -88, -146, -178, -196],
    [2014.416, -8, 38, -38, -70, -118, -160, -184], [2014.428, -20, -52, 14, -86, -132, -190, -206], [2014.440, -34, 24, 2, -66, -98, -152, -196],
    [2014.452, -16, -46, 20, -78, -126, -174, -212], [2014.464, -28, 30, -60, -92, -140, -188, -210], [2014.476, -10, -42, 26, -74, -116, -166, -220],
    [2014.488, -22, -56, 16, -96, -150, -190, -226], [2014.500, -8, -42, 30, -82, -136, -206, -240], [2014.512, -30, -64, 8, -104, -164, -214, -248],
    [2014.524, -14, -50, 24, -120, -90, -180, -232], [2014.536, -26, -60, 12, -100, -140, -200, -256], [2014.548, -4, -38, 36, -78, -130, -170, -220],
    [2014.560, -20, -54, 18, -94, -158, -244, -196], [2014.572, -10, -46, 28, -86, -120, -176, -210], [2014.584, -2, -30, 22, -60, -110, -150],
]

# panel (b) blue, points in between the columns above
b_cols2 = [
    [2011.246, 31, -17, 13], [2011.270, -21, 35, 1], [2011.294, 39, -13, 23], [2011.318, -19, 33, 9],
    [2011.342, 41, -23, 17], [2011.366, -15, 37, 3], [2011.390, 35, -21, 25], [2011.414, -17, 39, 11],
    [2011.438, 43, -19, 19], [2011.462, -23, 37, 5], [2011.486, 41, -15, 27], [2011.510, -21, 45, 13],
    [2011.534, 39, -17, 21], [2011.558, -25, 41, 3], [2011.678, 37, -17, 15], [2011.702, -15, 41, 7],
    [2011.726, 39, -19, 25], [2011.750, -13, 43, 11], [2011.774, 37, -17, 21], [2011.798, -19, 41, 5],
    [2011.822, 39, -15, 23],
    [2012.642, 52, -26, 14], [2012.666, 60, -36, 22], [2012.690, 74, -18, 46], [2012.714, 56, -32, 26],
    [2012.738, 68, -12, 38], [2012.762, 50, -38, 18], [2012.786, 72, -24, 44], [2012.810, 58, -40, 28],
    [2012.834, 66, -16, 20], [2012.858, 44, -58, 10], [2012.882, 62, -30, 34], [2012.906, 48, -44, 4],
    [2012.930, 58, -52, 22], [2012.954, 40, -62, 12], [2012.978, 54, -48, 30], [2013.002, 46, -56, 16],
    [2013.138, 72, -28, 44], [2013.162, 58, -42, 20], [2013.186, 80, -24, 48], [2013.210, 64, -50, 34],
    [2013.234, 76, -36, 16], [2013.258, 60, -22, 42], [2013.282, 82, -46, 28], [2013.306, 66, -30, 50],
    [2013.330, 78, -52, 18], [2013.354, 62, -26, 40], [2013.378, 84, -44, 24], [2013.402, 68, -34, 52],
    [2013.426, 80, -48, 14], [2013.450, 64, -28, 46], [2013.474, 86, -40, 30], [2013.498, 70, -32, 54],
]

# ---------------- panel (b): SVN 755 (cyan) ----------------
c_t = [2014.644, 2014.646, 2014.700, 2014.826, 2014.800, 2014.920, 2014.922, 2014.925, 2014.926, 2014.924,
       2014.928, 2014.930, 2014.970, 2015.030, 2015.010, 2015.140, 2015.210, 2015.215, 2015.240, 2015.280,
       2015.350, 2015.352, 2015.348, 2015.351, 2015.390, 2015.392, 2015.410, 2015.090, 2015.170, 2015.360,
       2014.775, 2015.260, 2015.300, 2015.070]
c_v = [192, 164, 130, 150, 170, 220, 196, 172, -115, -131,
       -219, -259, 180, 228, 200, -227, 228, 196, -270, 150,
       287, 280, -99, -123, -370, -386, 132, -120, -160, -140,
       -86, 160, 170, -123]
c_cols = [
    [2014.596, 18, 0, 38, -20, 56], [2014.608, 28, 10, 48, -12, 64], [2014.620, 14, -6, 34, -28, 52],
    [2014.632, 24, 6, 44, -16, 62], [2014.644, 32, 14, 52, -8, 72], [2014.656, 20, 2, 40, -22, 58],
    [2014.668, 10, -10, 30, -32, 50], [2014.680, 26, 8, 46, -14, 66], [2014.692, 16, -4, 36, -26, 54],
    [2014.704, 30, 12, 50, -10, 70], [2014.716, 22, 4, 42, -20, 60], [2014.728, 12, -8, 32, -30, 52],
    [2014.740, 28, 10, 48, -16, 68], [2014.752, 18, -2, 38, -24, 58], [2014.764, 34, 16, 54, -6, 76],
    [2014.776, 24, 6, 44, -18, 64], [2014.788, 14, -6, 34, -34, 56], [2014.800, 30, 12, 50, -12, 72],
    [2014.812, 20, 0, 40, -26, 62], [2014.824, 36, 18, 58, -4, 82], [2014.836, 26, 6, 46, -20, 70],
    [2014.848, 12, -10, 32, -36, 58], [2014.860, 28, 8, 50, -16, 76], [2014.872, 18, -4, 40, -30, 66],
    [2014.884, 34, 14, 56, -10, 86], [2014.896, 22, 2, 44, -24, 72], [2014.908, 10, -14, 32, -40, 62],
    [2014.920, 30, 8, 54, -20, 90], [2014.932, 20, -4, 42, -34, 74], [2014.944, 36, 12, 60, -14, 96],
    [2014.956, 24, 0, 48, -28, 80], [2014.968, 14, -16, 40, -46, 104, -70],
    [2014.980, 34, -4, 72, -40, 112, -80], [2014.992, 48, 10, 88, -26, 130, -64], [2015.004, 24, -18, 62, -54, 120, -92],
    [2015.016, 42, 4, 82, -34, 144, -74], [2015.028, 56, 16, 96, -20, 136, -58], [2015.040, 30, -10, 70, -48, 124, -96],
    [2015.052, 44, 6, 84, -30, 110, -70],
    [2015.064, 28, 6, 50, -16, 74], [2015.076, 18, -4, 40, -28, 64], [2015.088, 32, 12, 54, -10, 80],
    [2015.100, 22, 2, 44, -24, 70], [2015.112, 12, -10, 34, -36, 60], [2015.124, 28, 8, 50, -18, 78],
    [2015.136, 20, 0, 42, -28, 68], [2015.148, 34, 14, 56, -8, 86], [2015.160, 24, 4, 46, -22, 72],
    [2015.172, 14, -8, 36, -34, 62], [2015.184, 30, 10, 52, -14, 80], [2015.196, 20, -2, 42, -26, 70],
    [2015.208, 36, 16, 58, -6, 90], [2015.220, 26, 6, 48, -20, 76], [2015.232, 12, -10, 34, -38, 62],
    [2015.244, 28, 8, 50, -16, 80], [2015.256, 18, -4, 40, -30, 68], [2015.268, 34, 14, 56, -10, 88],
    [2015.280, 22, 2, 44, -24, 74], [2015.292, 10, -12, 32, -40, 60], [2015.304, 26, 6, 48, -18, 78],
    [2015.316, 16, -6, 38, -32, 66], [2015.328, 32, 12, 54, -12, 84], [2015.340, 22, 0, 44, -26, 72],
    [2015.352, 12, -12, 34, -42, 60], [2015.364, 28, 8, 50, -20, 76], [2015.376, 18, -4, 40, -30, 66],
    [2015.388, 30, 10, 52, -14, 82], [2015.400, 20, -2, 42, -28, 70], [2015.412, 14, -10, 36, -36, 62],
    [2015.424, 26, 6, 48, -18, 76], [2015.436, 16, -6, 38, -30, 64],
]
c_cols2 = [
    [2014.602, 61, -33, 27], [2014.626, 47, -41, 9], [2014.650, 67, -29, 35], [2014.674, 53, -39, 15],
    [2014.698, 71, -27, 41], [2014.722, 57, -43, 21], [2014.746, 75, -31, 5], [2014.770, 59, -37, 31],
    [2014.794, 79, -25, 13], [2014.818, 63, -45, 39], [2014.842, 85, -33, 19], [2014.866, 67, -39, 45],
    [2014.890, 91, -29, 7], [2014.914, 73, -47, 33], [2014.938, 97, -37, 23], [2014.962, 81, -51, 3],
    [2014.986, 119, -87, 51, -23], [2015.010, 139, -99, 71, -11], [2015.034, 127, -83, 45, -37], [2015.058, 101, -61, 27],
    [2015.082, 71, -35, 37], [2015.106, 57, -41, 13], [2015.130, 83, -27, 29], [2015.154, 65, -45, 43],
    [2015.178, 79, -31, 9], [2015.202, 61, -37, 33], [2015.226, 89, -25, 19], [2015.250, 67, -43, 47],
    [2015.274, 81, -29, 11], [2015.298, 63, -39, 35], [2015.322, 87, -33, 21], [2015.346, 69, -47, 41],
    [2015.370, 77, -27, 3], [2015.394, 59, -41, 29], [2015.418, 83, -31, 17], [2015.442, 65, -37, 37],
]

PURPLE = "#9400d3"
BLUE = "#3300ff"
CYAN = "#00b4f5"
GREY = "#b3b3b3"


def flatten(t, v, *col_sets):
    xs, ys = list(t), list(v)
    for cols in col_sets:
        for col in cols:
            for val in col[1:]:
                xs.append(col[0])
                ys.append(val)
    return xs, ys


def no_labels():
    return CustomLabelingPolicy(code="return []")


def tick_axis():
    return LinearAxis(ticker=FixedTicker(ticks=YEAR_TICKS, minor_ticks=MONTH_TICKS),
                      major_label_text_font_size="0px", major_label_standoff=0,
                      major_label_policy=no_labels(),
                      major_tick_in=0, major_tick_out=5, minor_tick_in=0, minor_tick_out=3,
                      axis_line_color="black", major_tick_line_color="black", minor_tick_line_color="black")


def make_panel(band_start, band_end, series, caption, cap_offset, bottom_border):
    p = figure(frame_width=595, frame_height=167,
               x_range=Range1d(X_START, X_END), y_range=Range1d(Y_MIN, Y_MAX),
               x_axis_location=None, y_axis_location=None,
               output_backend="svg", toolbar_location=None,
               min_border_left=78, min_border_right=0, min_border_top=15, min_border_bottom=bottom_border,
               outline_line_color="black", background_fill_color="white", border_fill_color="white")
    p.grid.visible = False

    p.quad(left=band_start, right=band_end, bottom=Y_MIN, top=Y_MAX,
           fill_color=GREY, line_color=None, level="image")
    p.add_layout(Span(location=0, dimension="width", line_color="black", line_width=1, level="underlay"))
    for (xs, ys, col) in series:
        p.scatter(xs, ys, marker="circle", size=3.6, fill_color=col, line_color=None)

    p.add_layout(tick_axis(), "below")
    lab = LinearAxis(ticker=FixedTicker(ticks=YEAR_LABEL_POS, minor_ticks=[]),
                     major_label_overrides={pos: s for pos, s in zip(YEAR_LABEL_POS, YEAR_LABELS)},
                     axis_line_color=None, major_tick_line_color=None, minor_tick_line_color=None,
                     major_tick_in=0, major_tick_out=0, minor_tick_in=0, minor_tick_out=0,
                     major_label_standoff=5,
                     major_label_text_font="Liberation Sans", major_label_text_font_size="15px",
                     major_label_text_color="black",
                     axis_label="Year", axis_label_text_font="Liberation Sans",
                     axis_label_text_font_size="19px", axis_label_text_font_style="normal",
                     axis_label_text_color="black", axis_label_standoff=6)
    p.add_layout(lab, "below")
    p.add_layout(tick_axis(), "above")

    left = LinearAxis(ticker=FixedTicker(ticks=Y_TICKS, minor_ticks=Y_MINOR),
                      major_label_overrides={t: s for t, s in zip(Y_TICKS, Y_LABELS)},
                      major_tick_in=0, major_tick_out=4, minor_tick_in=0, minor_tick_out=2,
                      axis_line_color="black", major_tick_line_color="black", minor_tick_line_color="black",
                      major_label_standoff=5, major_label_text_font="Liberation Sans",
                      major_label_text_font_size="15px", major_label_text_color="black",
                      axis_label="SLR residuals in mm", axis_label_text_font="Liberation Sans",
                      axis_label_text_font_size="17px", axis_label_text_font_style="normal",
                      axis_label_text_color="black", axis_label_standoff=9)
    p.add_layout(left, "left")
    right = LinearAxis(ticker=FixedTicker(ticks=Y_RIGHT_TICKS, minor_ticks=[]),
                       major_label_text_font_size="0px", major_label_standoff=0,
                       major_label_policy=no_labels(),
                       major_tick_in=0, major_tick_out=3, minor_tick_in=0, minor_tick_out=0,
                       axis_line_color="black", major_tick_line_color="black")
    p.add_layout(right, "right")

    p.add_layout(Title(text=caption, text_font="Liberation Serif", text_font_size="25px",
                       text_font_style="normal", text_color="black", align="left",
                       vertical_align="top", offset=cap_offset, standoff=0), "below")
    return p


ax, ay = flatten(a_t, a_v, a_cols, a_cols2)
bx, by = flatten(b_t, b_v, b_cols, b_cols2)
cx, cy = flatten(c_t, c_v, c_cols, c_cols2)

p1 = make_panel(a_band_start, a_band_end, [(ax, ay, PURPLE)],
                "(a) Satellite SVN 721 in slot number R13", 58, 104)
p2 = make_panel(b_band_start, b_band_end, [(bx, by, BLUE), (cx, cy, CYAN)],
                "(b) Satellite SVN 725 (blue) and 755 (cyan) in slot number R21", -61, 81)

layout = column(p1, p2, spacing=0)
open("out.html", "w").write(file_html(layout, INLINE))
